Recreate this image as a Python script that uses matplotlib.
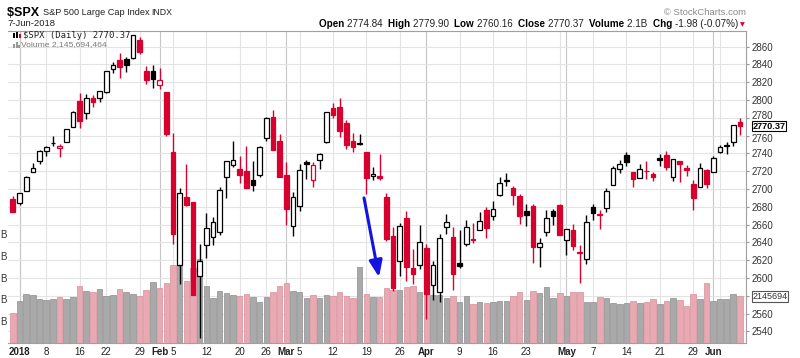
import matplotlib
matplotlib.use("Agg")
import matplotlib.pyplot as plt
import matplotlib.transforms as mtransforms
import numpy as np
from matplotlib.patches import Rectangle

plt.rcParams["font.family"] = ["Liberation Sans", "DejaVu Sans"]

# --- data: $SPX daily, 29-Dec-2017 .. 7-Jun-2018 ---
dates = (
    ["2017-12-29"]
    + ["2018-01-%02d" % d for d in [2, 3, 4, 5, 8, 9, 10, 11, 12, 16, 17, 18, 19, 22, 23, 24, 25, 26, 29, 30, 31]]
    + ["2018-02-%02d" % d for d in [1, 2, 5, 6, 7, 8, 9, 12, 13, 14, 15, 16, 20, 21, 22, 23, 26, 27, 28]]
    + ["2018-03-%02d" % d for d in [1, 2, 5, 6, 7, 8, 9, 12, 13, 14, 15, 16, 19, 20, 21, 22, 23, 26, 27, 28, 29]]
    + ["2018-04-%02d" % d for d in [2, 3, 4, 5, 6, 9, 10, 11, 12, 13, 16, 17, 18, 19, 20, 23, 24, 25, 26, 27, 30]]
    + ["2018-05-%02d" % d for d in [1, 2, 3, 4, 7, 8, 9, 10, 11, 14, 15, 16, 17, 18, 21, 22, 23, 24, 25, 29, 30, 31]]
    + ["2018-06-%02d" % d for d in [1, 4, 5, 6, 7]]
)

opens = [
    2689.15,
    2683.73, 2697.85, 2719.31, 2731.33, 2742.67, 2751.15, 2745.55, 2752.97, 2770.18, 2798.96, 2784.99,
    2802.40, 2802.60, 2809.16, 2835.05, 2845.42, 2846.24, 2847.48, 2867.23, 2832.74, 2832.41,
    2816.45, 2808.92, 2741.06, 2614.78, 2690.95, 2685.01, 2601.78, 2636.75, 2646.27, 2651.21, 2713.46,
    2727.14, 2722.99, 2720.53, 2710.42, 2715.80, 2757.37, 2780.45, 2753.78,
    2715.22, 2658.89, 2681.06, 2730.18, 2710.18, 2732.75, 2752.91, 2790.54, 2792.31, 2774.06, 2754.27,
    2750.57, 2741.38, 2715.05, 2714.99, 2691.36, 2646.71, 2619.35, 2667.57, 2611.30, 2614.41,
    2633.45, 2592.17, 2584.04, 2657.36, 2645.82, 2617.18, 2638.41, 2643.89, 2653.83, 2676.90, 2670.10,
    2692.74, 2710.11, 2701.16, 2692.56, 2675.40, 2680.80, 2634.92, 2651.65, 2675.47, 2682.51,
    2642.96, 2654.24, 2628.08, 2621.45, 2680.34, 2670.26, 2678.12, 2705.02, 2722.70, 2738.47, 2718.59,
    2712.62, 2719.71, 2717.35, 2735.39, 2738.34, 2713.98, 2730.94, 2723.60, 2705.11, 2702.43, 2720.98,
    2718.70, 2741.67, 2748.46, 2753.25, 2774.84,
]
highs = [
    2692.12,
    2695.89, 2714.37, 2729.29, 2743.45, 2748.51, 2759.14, 2750.80, 2767.56, 2787.85, 2807.54, 2807.04,
    2805.83, 2810.33, 2833.03, 2842.24, 2852.97, 2848.56, 2872.87, 2870.62, 2837.75, 2839.26,
    2835.96, 2808.92, 2763.39, 2701.04, 2727.67, 2685.27, 2638.67, 2672.61, 2668.84, 2702.10, 2731.51,
    2754.42, 2737.60, 2747.75, 2731.26, 2747.76, 2780.64, 2789.15, 2761.52,
    2730.89, 2696.25, 2728.09, 2732.08, 2730.60, 2740.45, 2786.57, 2796.98, 2801.90, 2777.11, 2763.03,
    2761.85, 2741.38, 2724.22, 2739.14, 2695.68, 2657.67, 2661.36, 2674.78, 2632.65, 2659.07,
    2638.30, 2619.14, 2649.86, 2672.08, 2656.88, 2653.55, 2665.45, 2661.43, 2674.72, 2680.26, 2686.49,
    2713.34, 2717.49, 2702.84, 2693.94, 2682.86, 2683.55, 2645.30, 2676.48, 2677.35, 2682.87,
    2655.27, 2660.87, 2637.14, 2670.93, 2683.35, 2676.34, 2701.27, 2726.11, 2732.86, 2742.10, 2718.59,
    2727.76, 2731.96, 2719.50, 2739.19, 2742.24, 2733.33, 2731.97, 2727.36, 2710.67, 2729.34, 2722.50,
    2736.93, 2749.16, 2752.61, 2772.39, 2779.90,
]
lows = [
    2673.61,
    2682.36, 2697.77, 2719.07, 2727.92, 2737.60, 2747.86, 2736.06, 2752.78, 2769.64, 2768.64, 2778.38,
    2792.56, 2798.08, 2808.12, 2830.59, 2824.81, 2830.94, 2846.18, 2851.48, 2818.27, 2813.04,
    2812.70, 2759.97, 2638.17, 2593.07, 2681.33, 2580.56, 2532.69, 2622.45, 2637.08, 2648.87, 2689.82,
    2725.11, 2706.76, 2701.29, 2697.77, 2713.74, 2753.78, 2744.22, 2713.54,
    2659.65, 2647.32, 2675.75, 2711.26, 2701.74, 2722.65, 2751.54, 2779.26, 2758.68, 2744.38, 2741.47,
    2749.97, 2694.59, 2710.05, 2709.79, 2641.59, 2585.89, 2601.81, 2596.12, 2593.06, 2609.72,
    2553.80, 2575.49, 2573.61, 2649.58, 2586.27, 2610.79, 2635.78, 2639.25, 2653.83, 2645.05, 2665.16,
    2692.05, 2703.63, 2681.90, 2660.61, 2657.99, 2617.32, 2612.67, 2647.16, 2659.01, 2648.04,
    2625.41, 2631.70, 2594.62, 2615.32, 2664.70, 2655.20, 2674.14, 2704.54, 2717.45, 2725.47, 2701.91,
    2712.17, 2711.36, 2709.18, 2725.70, 2721.88, 2709.54, 2707.38, 2714.99, 2676.81, 2702.43, 2700.68,
    2718.70, 2740.54, 2739.51, 2748.46, 2760.16,
]
closes = [
    2673.61,
    2695.81, 2713.06, 2723.99, 2743.15, 2747.71, 2751.29, 2748.23, 2767.56, 2786.24, 2776.42, 2802.56,
    2798.03, 2810.30, 2832.97, 2839.13, 2837.54, 2839.25, 2872.87, 2853.53, 2822.43, 2823.81,
    2821.98, 2762.13, 2648.94, 2695.14, 2681.66, 2581.00, 2619.55, 2656.00, 2662.94, 2698.63, 2731.20,
    2732.22, 2716.26, 2701.33, 2703.96, 2747.30, 2779.60, 2744.28, 2713.83,
    2677.67, 2691.25, 2720.94, 2728.12, 2726.80, 2738.97, 2786.57, 2783.02, 2765.31, 2749.48, 2747.33,
    2752.01, 2712.92, 2716.94, 2711.93, 2643.69, 2588.26, 2658.55, 2612.62, 2605.00, 2640.87,
    2581.88, 2614.45, 2644.69, 2662.84, 2604.47, 2613.16, 2656.87, 2642.19, 2663.99, 2656.30, 2677.84,
    2706.39, 2708.64, 2693.13, 2670.14, 2670.29, 2634.56, 2639.40, 2666.94, 2669.91, 2648.05,
    2654.80, 2635.67, 2629.73, 2663.42, 2672.63, 2671.92, 2697.79, 2723.07, 2727.72, 2730.13, 2711.45,
    2722.46, 2720.13, 2712.97, 2733.01, 2724.44, 2733.29, 2727.76, 2721.33, 2689.86, 2724.01, 2705.27,
    2734.62, 2746.87, 2748.80, 2772.35, 2770.37,
]
prior_close = 2687.54

# volume in billions of shares
volumes = [
    1.37,
    1.93, 2.25, 2.21, 2.02, 1.96, 2.01, 2.10, 2.01, 2.13, 2.62, 2.40,
    2.33, 2.47, 2.17, 2.21, 2.47, 2.33, 2.25, 2.16, 2.42, 2.82,
    2.51, 2.74, 3.57, 4.08, 2.86, 3.45, 3.86, 2.63, 2.08, 2.40, 2.29,
    2.21, 2.16, 2.25, 2.13, 1.87, 2.13, 2.36, 2.61,
    2.77, 2.40, 2.36, 2.08, 2.19, 2.08, 2.19, 2.15, 2.36, 2.15, 2.06,
    3.51, 2.24, 2.13, 2.13, 2.53, 2.45, 2.45, 2.57, 2.62, 2.36,
    2.31, 2.21, 2.21, 2.08, 2.16, 1.90, 2.16, 1.79, 1.90, 1.83, 1.87,
    1.94, 1.94, 2.16, 2.33, 1.98, 2.40, 2.29, 2.56, 2.08, 2.31,
    2.16, 2.33, 2.36, 1.90, 1.90, 2.13, 2.06, 1.83, 1.79, 1.83, 1.94,
    1.83, 1.87, 2.01, 1.79, 1.92, 2.06, 1.96, 1.70, 2.24, 2.01, 2.74,
    1.94, 2.01, 2.01, 2.24, 2.146,
]

week_starts = ["2018-01-02", "2018-01-08", "2018-01-16", "2018-01-22", "2018-01-29", "2018-02-05",
               "2018-02-12", "2018-02-20", "2018-02-26", "2018-03-05", "2018-03-12", "2018-03-19",
               "2018-03-26", "2018-04-02", "2018-04-09", "2018-04-16", "2018-04-23", "2018-04-30",
               "2018-05-07", "2018-05-14", "2018-05-21", "2018-05-29", "2018-06-04"]
month_starts = ["2018-01-02", "2018-02-01", "2018-03-01", "2018-04-02", "2018-05-01", "2018-06-01"]
tick_dates = ["2018-01-02", "2018-01-08", "2018-01-16", "2018-01-22", "2018-01-29", "2018-02-01",
              "2018-02-05", "2018-02-12", "2018-02-20", "2018-02-26", "2018-03-01", "2018-03-05",
              "2018-03-12", "2018-03-19", "2018-03-26", "2018-04-02", "2018-04-09", "2018-04-16",
              "2018-04-23", "2018-05-01", "2018-05-07", "2018-05-14", "2018-05-21", "2018-05-29",
              "2018-06-01"]
tick_labels = ["2018", "8", "16", "22", "29", "Feb", "5", "12", "20", "26", "Mar", "5", "12", "19", "26",
               "Apr", "9", "16", "23", "May", "7", "14", "21", "29", "Jun"]
bold_labels = {"2018", "Feb", "Mar", "Apr", "May", "Jun"}

price_ticks = list(range(2540, 2861, 20))
hidden_price_labels = {2580}  # sits under the volume tag
nudged_price_labels = {2780: 2.0, 2760: -2.0}  # pushed aside by the last-price tag (points)
vol_ticks = [1, 2, 3, 4, 5]

RED = "#d7002f"
PINK = "#e8a9b2"
PINK_EDGE = "#d98d99"
GREY = "#a9a9a9"
GREY_EDGE = "#8e8e8e"

W, H = 800, 358
fig = plt.figure(figsize=(8, 3.58), dpi=100)
fig.patch.set_facecolor("white")

left_px, right_px, top_px, bottom_px = 8, 746, 31, 343
ax = fig.add_axes([left_px / W, 1 - bottom_px / H, (right_px - left_px) / W, (bottom_px - top_px) / H])

day_px = 6.67
first_px = 12.83
ymin, ymax = 2527, 2877.5
ax.set_xlim((left_px - first_px) / day_px, (right_px - first_px) / day_px)
ax.set_ylim(ymin, ymax)

pos = {d: i for i, d in enumerate(dates)}
x = np.arange(len(dates))

# volume overlay: 21.75 px per billion shares
price_per_px = (ymax - ymin) / (bottom_px - top_px)
vol_scale = 21.75 * price_per_px


def v2p(v):
    return ymin + np.asarray(v) * vol_scale


def p2v(p):
    return (np.asarray(p) - ymin) / vol_scale


prev = [prior_close] + closes[:-1]
down = [c < p for c, p in zip(closes, prev)]

ax.bar(x, np.array(volumes) * vol_scale, bottom=ymin, width=0.82,
       color=[PINK if d else GREY for d in down],
       edgecolor=[PINK_EDGE if d else GREY_EDGE for d in down],
       linewidth=0.5, zorder=1)

# candles
body_w = 0.7
for i in range(len(dates)):
    o, h, l, c = opens[i], highs[i], lows[i], closes[i]
    col = RED if down[i] else "black"
    ax.vlines(x[i], l, h, color=col, linewidth=1.0, zorder=2)
    lo, hi = min(o, c), max(o, c)
    hgt = max(hi - lo, 1.0)
    face = "white" if c > o else col
    ax.add_patch(Rectangle((x[i] - body_w / 2, lo), body_w, hgt, facecolor=face,
                           edgecolor=col, linewidth=0.9, zorder=3))

# grid
ax.set_yticks(price_ticks)
ax.set_yticklabels(["" if p in hidden_price_labels else str(p) for p in price_ticks])
ax.grid(axis="y", color="#e3e3e3", linewidth=0.8, zorder=0)
for d in week_starts:
    ax.axvline(pos[d], color="#e3e3e3", linewidth=0.8, zorder=0)
for d in month_starts:
    ax.axvline(pos[d], color="#c6c6c6", linewidth=0.8, zorder=0)
ax.set_axisbelow(True)

ax.yaxis.tick_right()
ax.tick_params(axis="y", labelsize=7, labelcolor="#333333", length=2, color="#999999", pad=2)
for p, tick in zip(price_ticks, ax.yaxis.get_major_ticks()):
    if p in nudged_price_labels:
        shift = mtransforms.ScaledTranslation(0, nudged_price_labels[p] / 72, fig.dpi_scale_trans)
        tick.label2.set_transform(tick.label2.get_transform() + shift)

ax.set_xticks([pos[d] for d in tick_dates])
ax.set_xticklabels(tick_labels)
ax.tick_params(axis="x", labelsize=7, labelcolor="#222222", length=0, pad=3)
for t in ax.get_xticklabels():
    if t.get_text() in bold_labels:
        t.set_fontweight("bold")

for side in ["top", "right", "bottom"]:
    ax.spines[side].set_color("#a0a0a0")
    ax.spines[side].set_linewidth(0.8)
ax.spines["left"].set_visible(False)

sec = ax.secondary_yaxis("left", functions=(p2v, v2p))
sec.set_yticks(vol_ticks)
sec.set_yticklabels(["B"] * len(vol_ticks))
sec.tick_params(labelsize=7, labelcolor="#333333", length=0, pad=1)
sec.spines["left"].set_visible(False)

# last value tags on the right
ax.annotate("2770.37", xy=(1, closes[-1]), xycoords=("axes fraction", "data"),
            xytext=(4.5, 0), textcoords="offset points", ha="left", va="center",
            fontsize=6.6, fontweight="bold", color="black", zorder=10,
            bbox=dict(boxstyle="square,pad=0.05", facecolor="white", edgecolor="black", linewidth=0.8))
ax.annotate("2145694", xy=(1, v2p(volumes[-1])), xycoords=("axes fraction", "data"),
            xytext=(4.5, 0), textcoords="offset points", ha="left", va="center",
            fontsize=6.5, color="#333333", zorder=10,
            bbox=dict(boxstyle="square,pad=0.08", facecolor="white", edgecolor="#555555", linewidth=0.8))

# blue arrow
ax.annotate("", xy=(54.9, 2601), xytext=(52.65, 2690),
            arrowprops=dict(arrowstyle="-|>,head_length=0.55,head_width=0.22", color="#1414e0",
                            lw=2.2, mutation_scale=18, shrinkA=0, shrinkB=0), zorder=6)


def fx(px):
    return px / W


def fy(py):
    return 1 - py / H


renderer = fig.canvas.get_renderer()


def run_text(pieces, x_px, y_px, align="left"):
    items = []
    for s, weight, size, color in pieces:
        items.append(fig.text(0, fy(y_px), s, fontsize=size, fontweight=weight, color=color,
                              va="center", ha="left"))
    widths = [t.get_window_extent(renderer).width for t in items]
    cur = x_px - sum(widths) if align == "right" else x_px
    for t, w in zip(items, widths):
        t.set_x(fx(cur))
        cur += w
    return cur


# header
run_text([("$SPX ", "bold", 9, "black"),
          ("S&P 500 Large Cap Index ", "normal", 6.6, "#222222"),
          ("INDX", "normal", 6.3, "#222222")], 7, 12.5)
fig.text(fx(7), fy(24), "7-Jun-2018", fontsize=6.8, color="#222222", va="center", ha="left")
fig.text(fx(746), fy(12.5), "\u00a9 StockCharts.com", fontsize=6.8, color="#8a8a8a", va="center", ha="right")

hs = 7.1
run_text([("Open ", "bold", hs, "black"), ("2774.84  ", "normal", hs, "#222222"),
          ("High ", "bold", hs, "black"), ("2779.90  ", "normal", hs, "#222222"),
          ("Low ", "bold", hs, "black"), ("2760.16  ", "normal", hs, "#222222"),
          ("Close ", "bold", hs, "black"), ("2770.37  ", "normal", hs, "#222222"),
          ("Volume ", "bold", hs, "black"), ("2.1B  ", "normal", hs, "#222222"),
          ("Chg ", "bold", hs, "black"), ("-1.98 (-0.07%)", "normal", hs, "#222222")],
         738, 24, align="right")
fig.text(fx(739.5), fy(24.5), "\u25bc", fontsize=4.5, color=RED, va="center", ha="left",
         family="DejaVu Sans")

# in-chart legend
fig.text(fx(23), fy(36), "$SPX (Daily) 2770.37", fontsize=6.4, family="DejaVu Sans Mono",
         color="#222222", va="center", ha="left")
fig.text(fx(21), fy(45), "Volume 2,145,694,464", fontsize=6.1, color="#7a7a7a", va="center", ha="left")
for (px0, py0, pw, ph, col) in [(13, 33, 2, 5, "black"), (16, 32, 2, 6, "black"), (19, 34, 2, 4, RED)]:
    fig.add_artist(Rectangle((fx(px0), fy(py0 + ph)), pw / W, ph / H, transform=fig.transFigure,
                             facecolor=col, edgecolor="none"))
for (px0, ph) in [(13, 4), (15.5, 6), (18, 3)]:
    fig.add_artist(Rectangle((fx(px0), fy(48)), 2 / W, ph / H, transform=fig.transFigure,
                             facecolor="#999999", edgecolor="none"))

fig.savefig("out.png", dpi=100)
plt.close(fig)
